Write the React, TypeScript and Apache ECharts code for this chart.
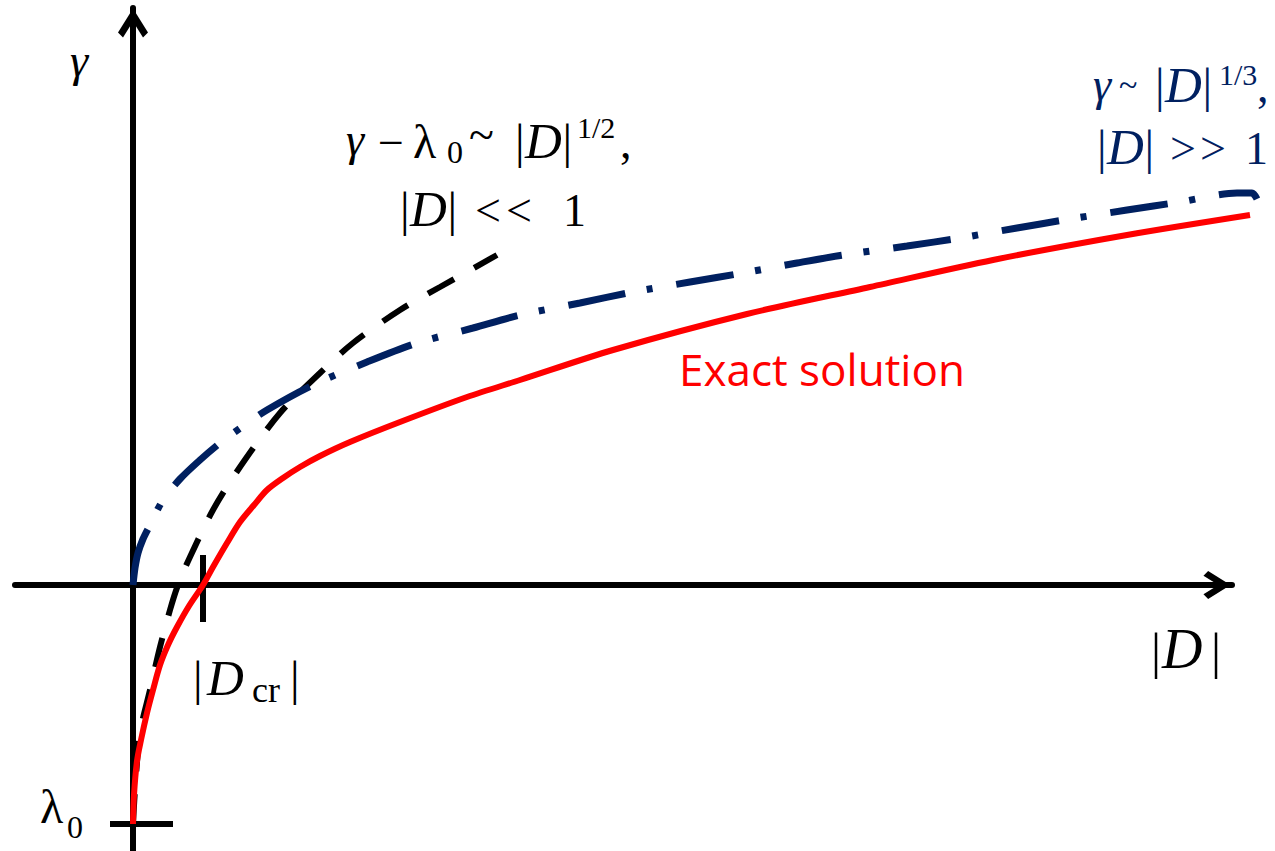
import React, { useEffect, useRef } from "react";
import * as echarts from "echarts";

// Exact solution gamma(|D|)
const exactD = [0, 0.01, 0.04, 0.08, 0.14, 0.2, 0.27, 0.35, 0.44, 0.56, 0.7, 0.8, 0.94, 1.07, 1.21, 1.34, 1.5, 1.67, 1.87, 2.17, 2.67, 3.34, 3.87, 4.8, 6.14, 7.37, 8.6, 9.94, 11.17];
const exactGamma = [-2.39, -2.1, -1.76, -1.55, -1.28, -1.05, -0.8, -0.6, -0.42, -0.21, 0, 0.18, 0.42, 0.63, 0.8, 0.95, 1.07, 1.18, 1.29, 1.43, 1.63, 1.88, 2.05, 2.35, 2.71, 2.98, 3.25, 3.5, 3.7];

// Small-|D| asymptote: gamma - lambda0 ~ |D|^(1/2)
const smallD = [0, 0.02, 0.07, 0.17, 0.27, 0.37, 0.45, 0.57, 0.8, 1.07, 1.47, 1.87, 2.2, 2.67, 3.07, 3.64];
const smallGamma = [-2.39, -2.05, -1.48, -1.05, -0.62, -0.25, 0, 0.28, 0.75, 1.18, 1.72, 2.12, 2.42, 2.75, 2.98, 3.3];

// Large-|D| asymptote: gamma ~ |D|^(1/3)
const largeD = [0, 0.02, 0.05, 0.1, 0.17, 0.3, 0.47, 0.67, 0.87, 1.09, 1.34, 1.8, 2.34, 2.84, 3.4, 3.87, 4.47, 5.0, 5.57, 6.1, 6.64, 7.1, 7.74, 8.27, 8.84, 9.37, 9.94, 10.47, 11.04, 11.19, 11.24];
const largeGamma = [0, 0.17, 0.32, 0.46, 0.6, 0.85, 1.06, 1.25, 1.42, 1.58, 1.75, 2.0, 2.23, 2.42, 2.57, 2.7, 2.82, 2.93, 3.03, 3.12, 3.22, 3.3, 3.39, 3.47, 3.57, 3.66, 3.75, 3.83, 3.92, 3.92, 3.86];

// Marked values on the axes
const LAMBDA0 = -2.39;
const D_CR = 0.7;

// Visible axis extents (the arrows end at the max values)
const AXIS_X_MIN = -1.18;
const AXIS_X_MAX = 10.99;
// Plot extents of the full drawing area
const X_MIN = -1.33;
const X_MAX = 11.42;
const Y_MIN = -2.66;
const Y_MAX = 5.77;

const zip = (xs: number[], ys: number[]) => xs.map((x, i) => [x, ys[i]]);

const SERIF = '"Liberation Serif", "Times New Roman", serif';
const NAVY = "#002060";
const RED = "#ff0000";

// Open chevron arrow head, tip pointing up
const CHEVRON = "path://M15 0 L30 24 L25 29 L15 13 L5 29 L0 24 Z";

type LabelOpts = { size?: number; italic?: boolean; color?: string; family?: string };

function label(x: number, base: number, text: string, opts: LabelOpts = {}) {
  const size = opts.size ?? 46;
  return {
    type: "text",
    x,
    y: base - size * 0.34,
    silent: true,
    style: {
      text,
      fontSize: size,
      fontFamily: opts.family ?? SERIF,
      fontStyle: opts.italic ? "italic" : "normal",
      fill: opts.color ?? "#000",
      align: "left",
      verticalAlign: "middle",
    },
  };
}

// |D| written as bar, italic D, bar
function absD(x: number, base: number, color = "#000") {
  return [
    label(x, base, "|", { color, size: 48 }),
    label(x + 10, base, "D", { italic: true, color, size: 51 }),
    label(x + 47.5, base, "|", { color, size: 48 }),
  ];
}

export default function App() {
  const ref = useRef<HTMLDivElement>(null);

  useEffect(() => {
    if (!ref.current) return;
    const chart = echarts.init(ref.current, undefined, { renderer: "svg" });

    const hidden = {
      type: "value",
      axisLine: { show: false },
      axisTick: { show: false },
      axisLabel: { show: false },
      splitLine: { show: false },
    };
    const arrowAxis = (size: number[]) => ({
      type: "value",
      axisTick: { show: false },
      axisLabel: { show: false },
      splitLine: { show: false },
      axisLine: {
        show: true,
        onZero: true,
        symbol: ["none", CHEVRON],
        symbolSize: size,
        symbolOffset: [0, -15],
        lineStyle: { color: "#000", width: 6 },
      },
    });

    const graphic = [
      // axis names
      label(70, 76, "γ", { italic: true }),
      label(40, 823, "λ", { size: 48 }),
      label(67, 838, "0", { size: 32 }),
      label(1151, 668, "|", { size: 50 }),
      label(1162, 668, "D", { italic: true, size: 56 }),
      label(1211, 668, "|", { size: 50 }),
      label(193, 695, "|", { size: 48 }),
      label(207, 695, "D", { italic: true, size: 51 }),
      label(252, 702, "cr", { size: 36 }),
      label(290, 695, "|", { size: 48 }),

      // small-|D| asymptote formula
      label(346, 155, "γ", { italic: true }),
      label(378, 158, "−"),
      label(413, 158, "λ", { size: 48 }),
      label(447, 163, "0", { size: 32 }),
      label(469, 150, "~"),
      ...absD(515, 158),
      label(577, 138, "1/2", { size: 30 }),
      label(620, 158, ","),
      ...absD(400, 226),
      label(475, 226, "<"),
      label(506, 226, "<"),
      label(563, 226, "1"),

      // large-|D| asymptote formula
      label(1093, 100, "γ", { italic: true, color: NAVY }),
      label(1119, 96, "~", { size: 34, color: NAVY }),
      ...absD(1155, 102, NAVY),
      label(1219, 85, "1/3", { size: 30, color: NAVY }),
      label(1257, 102, ",", { color: NAVY }),
      ...absD(1097, 164, NAVY),
      label(1170, 164, ">", { color: NAVY }),
      label(1200, 164, ">", { color: NAVY }),
      label(1245, 164, "1", { color: NAVY }),

      // curve label
      label(679, 384, "Exact solution", { size: 44, color: RED, family: '"Open Sans", sans-serif' }),
    ];

    chart.setOption({
      animation: false,
      backgroundColor: "#fff",
      grid: [
        // axes with arrows
        { left: 15, right: 43, top: 8, bottom: 0, containLabel: false },
        // curves, spanning the whole drawing
        { left: 0, right: 0, top: 8, bottom: 0, containLabel: false },
      ],
      xAxis: [
        { ...arrowAxis([28, 30]), gridIndex: 0, min: AXIS_X_MIN, max: AXIS_X_MAX },
        { ...hidden, gridIndex: 1, min: X_MIN, max: X_MAX },
      ],
      yAxis: [
        { ...arrowAxis([30, 30]), gridIndex: 0, min: Y_MIN, max: Y_MAX },
        { ...hidden, gridIndex: 1, min: Y_MIN, max: Y_MAX },
      ],
      series: [
        {
          name: "tick-lambda0",
          type: "line",
          xAxisIndex: 1,
          yAxisIndex: 1,
          data: [[-0.23, LAMBDA0], [0.4, LAMBDA0]],
          symbol: "none",
          clip: false,
          lineStyle: { color: "#000", width: 6 },
          z: 1,
        },
        {
          name: "tick-dcr",
          type: "line",
          xAxisIndex: 1,
          yAxisIndex: 1,
          data: [[D_CR, 0.3], [D_CR, -0.37]],
          symbol: "none",
          clip: false,
          lineStyle: { color: "#000", width: 6 },
          z: 1,
        },
        {
          name: "gamma ~ |D|^(1/2)",
          type: "line",
          xAxisIndex: 1,
          yAxisIndex: 1,
          data: zip(smallD, smallGamma),
          symbol: "none",
          smooth: 0.3,
          clip: false,
          lineStyle: { color: "#000", width: 6, type: [30, 23], cap: "butt" },
          z: 2,
        },
        {
          name: "gamma ~ |D|^(1/3)",
          type: "line",
          xAxisIndex: 1,
          yAxisIndex: 1,
          data: zip(largeD, largeGamma),
          symbol: "none",
          smooth: 0.3,
          clip: false,
          lineStyle: { color: NAVY, width: 7, type: [58, 22, 6, 24], cap: "butt" },
          z: 3,
        },
        {
          name: "Exact solution",
          type: "line",
          xAxisIndex: 1,
          yAxisIndex: 1,
          data: zip(exactD, exactGamma),
          symbol: "none",
          smooth: 0.3,
          clip: false,
          lineStyle: { color: RED, width: 6 },
          z: 4,
        },
      ],
      graphic,
    });

    return () => chart.dispose();
  }, []);

  return (
    <div
      ref={ref}
      style={{ position: "absolute", left: 0, top: 0, width: 1275, height: 851, background: "#fff" }}
    />
  );
}
